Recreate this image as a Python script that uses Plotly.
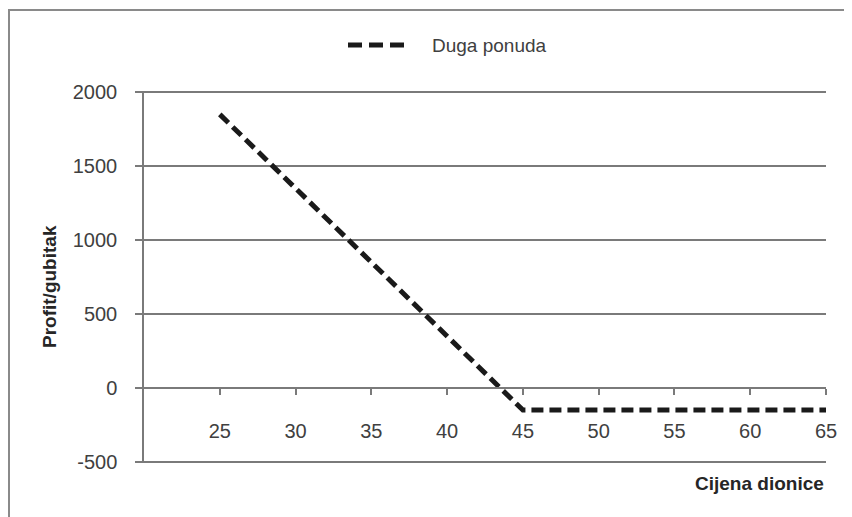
import plotly.graph_objects as go

prices = [25, 30, 35, 40, 45, 50, 55, 60, 65]
profit = [1850, 1350, 850, 350, -150, -150, -150, -150, -150]
x_ticks = [25, 30, 35, 40, 45, 50, 55, 60, 65]
y_ticks = [-500, 0, 500, 1000, 1500, 2000]
y_tick_text = ["-500", "0", "500", "1000", "1500", "2000"]
series_name = "Duga ponuda"

axis_col = "#7a7a7a"
text_col = "#404040"
font_fam = "Liberation Sans, Arial, sans-serif"
line_col = "#1a1a1a"
line_dash = "12px,6px"

# plot area in figure px: left 136, right 818 (w 682), top 83, bottom 455 (h 372)
W, H = 682.0, 372.0
BOT = 455.0
Y_RANGE = [-508, 2008]

fig = go.Figure()
fig.add_trace(go.Scatter(
    x=prices, y=profit, mode="lines", name=series_name,
    line=dict(color=line_col, width=5, dash=line_dash),
    showlegend=False,
))

fig.update_layout(
    width=852, height=517,
    margin=dict(l=136, r=34, t=83, b=62, autoexpand=False),
    paper_bgcolor="white", plot_bgcolor="white",
    font=dict(family=font_fam, size=20, color=text_col),
    xaxis=dict(range=[20, 65], anchor="free",
               position=(0 - Y_RANGE[0]) / (Y_RANGE[1] - Y_RANGE[0]),
               showline=True, linecolor=axis_col, linewidth=1.5,
               showgrid=False, zeroline=False,
               tickvals=x_ticks, ticks="outside", ticklen=6, tickcolor=axis_col, tickwidth=1.5,
               ticklabelstandoff=19, tickfont=dict(size=20, color=text_col)),
    yaxis=dict(range=Y_RANGE, tickvals=y_ticks, ticktext=y_tick_text,
               showline=True, linecolor=axis_col, linewidth=1.5,
               showgrid=True, gridcolor=axis_col, gridwidth=1.5, zeroline=False,
               ticks="outside", ticklen=7, tickcolor=axis_col, tickwidth=1.5,
               ticklabelstandoff=14,
               tickfont=dict(size=20, color=text_col)),
    shapes=[
        dict(type="rect", xref="paper", yref="paper",
             x0=-135.0 / W, x1=1.2, y0=-0.4, y1=(BOT - 2) / H,
             line=dict(color="#8a8a8a", width=2), layer="below"),
        # legend sample
        dict(type="line", xref="paper", yref="paper",
             x0=(340 - 136) / W, x1=(400 - 136) / W,
             y0=(BOT - 37) / H, y1=(BOT - 37) / H,
             line=dict(color=line_col, width=5, dash="14px,7px")),
    ],
    annotations=[
        dict(text=series_name, xref="paper", yref="paper",
             x=(422 - 136) / W, y=(BOT - 37) / H, showarrow=False,
             font=dict(size=19, color=text_col), xanchor="left", yanchor="middle"),
        dict(text="<b>Profit/gubitak</b>", xref="paper", yref="paper",
             x=(41 - 136) / W, y=(BOT - 279) / H, textangle=-90, showarrow=False,
             font=dict(size=19, color="#262626"), xanchor="center", yanchor="middle"),
        dict(text="<b>Cijena dionice</b>", xref="paper", yref="paper",
             x=1.0, y=(BOT - 475) / H, showarrow=False,
             font=dict(size=19, color="#262626"), xanchor="right", yanchor="middle"),
    ],
)

fig.write_html("out.html")
